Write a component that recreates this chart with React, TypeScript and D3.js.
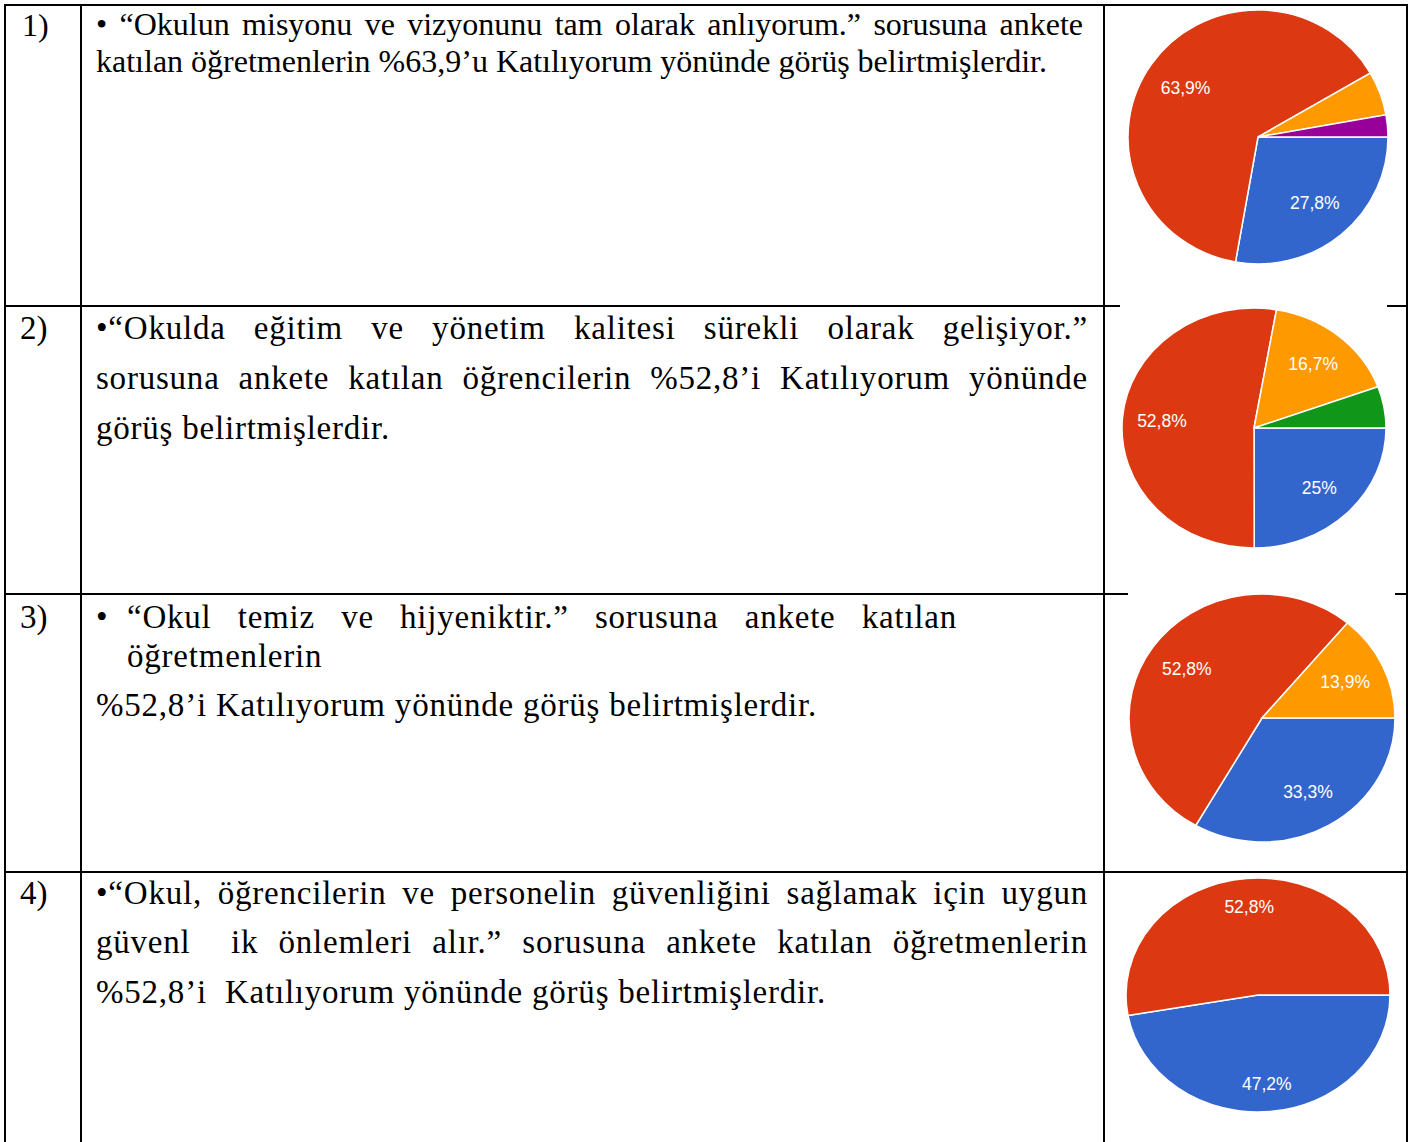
import React, { useEffect, useRef } from "react";
import * as d3 from "d3";

// ---- data ----
const categories = [
  "Kesinlikle katılıyorum",
  "Katılıyorum",
  "Kararsızım",
  "Katılmıyorum",
  "Kesinlikle katılmıyorum",
];
const categoryColors = ["#3366CC", "#DC3912", "#FF9900", "#109618", "#990099"];
const pie1Values = [27.8, 63.9, 5.6, 0, 2.8];
const pie2Values = [25, 52.8, 16.7, 5.6, 0];
const pie3Values = [33.3, 52.8, 13.9, 0, 0];
const pie4Values = [47.2, 52.8, 0, 0, 0];
const rowNumbers = ["1)", "2)", "3)", "4)"];
const row1Lines = [
  "• “Okulun misyonu ve vizyonunu tam olarak anlıyorum.” sorusuna ankete",
  "katılan öğretmenlerin %63,9’u Katılıyorum yönünde görüş belirtmişlerdir.",
];
const row2Lines = [
  "•“Okulda eğitim ve yönetim kalitesi sürekli olarak gelişiyor.”",
  "sorusuna ankete katılan öğrencilerin %52,8’i Katılıyorum yönünde",
  "görüş belirtmişlerdir.",
];
const row3Bullet = "•";
const row3Lines = [
  "“Okul temiz ve hijyeniktir.” sorusuna ankete katılan",
  "öğretmenlerin",
  "%52,8’i Katılıyorum yönünde görüş belirtmişlerdir.",
];
const row4Lines = [
  "•“Okul, öğrencilerin ve personelin güvenliğini sağlamak için uygun",
  "güvenl  ik önlemleri alır.” sorusuna ankete katılan öğretmenlerin",
  "%52,8’i  Katılıyorum yönünde görüş belirtmişlerdir.",
];

// ---- layout ----
const W = 1423;
const H = 1142;
const colX = [5, 81, 1104, 1407];
const rowY = [5, 306, 594, 872];
const pieLayout = [
  { cx: 1258, cy: 137, rx: 130, ry: 127, labelFrac: 0.68 },
  { cx: 1254, cy: 428, rx: 132, ry: 120, labelFrac: 0.7 },
  { cx: 1262, cy: 718, rx: 133, ry: 124, labelFrac: 0.69 },
  { cx: 1258, cy: 995, rx: 132, ry: 117, labelFrac: 0.76 },
];
const pieCovers = [
  null,
  { x0: 1120, x1: 1387, y: 306 },
  { x0: 1128, x1: 1395, y: 594 },
  null,
];

const SERIF = "'Liberation Serif', 'Times New Roman', serif";

export default function App() {
  const ref = useRef<SVGSVGElement | null>(null);

  useEffect(() => {
    const svg = d3.select(ref.current);
    svg.selectAll("*").remove();
    svg.append("rect").attr("width", W).attr("height", H).attr("fill", "#fff");

    // ---- table lines ----
    const lines = svg.append("g").attr("stroke", "#000").attr("stroke-width", 2);
    colX.forEach((x) => {
      lines.append("line").attr("x1", x).attr("x2", x).attr("y1", rowY[0] - 1).attr("y2", H);
    });
    rowY.forEach((y) => {
      lines.append("line").attr("x1", colX[0] - 1).attr("x2", colX[3] + 1).attr("y1", y).attr("y2", y);
    });
    pieCovers.forEach((c) => {
      if (!c) return;
      svg.append("rect").attr("x", c.x0).attr("y", c.y - 3).attr("width", c.x1 - c.x0).attr("height", 6).attr("fill", "#fff");
    });

    // ---- pies ----
    const allValues = [pie1Values, pie2Values, pie3Values, pie4Values];
    const pieGen = d3
      .pie<number>()
      .sort(null)
      .value((d) => d)
      .startAngle(Math.PI / 2)
      .endAngle(Math.PI / 2 + 2 * Math.PI);
    const color = d3.scaleOrdinal<string, string>().domain(categories).range(categoryColors);

    allValues.forEach((vals, i) => {
      const L = pieLayout[i];
      const arcs = pieGen(vals).filter((a) => a.value > 0);
      const arc = d3.arc<d3.PieArcDatum<number>>().innerRadius(0).outerRadius(L.rx);
      const g = svg.append("g").attr("transform", `translate(${L.cx},${L.cy})`);
      const gs = g.append("g").attr("transform", `scale(1,${L.ry / L.rx})`);
      gs.selectAll("path")
        .data(arcs)
        .join("path")
        .attr("d", arc as any)
        .attr("fill", (d) => color(categories[d.index]))
        .attr("stroke", "#fff")
        .attr("stroke-width", 1.5)
        .attr("vector-effect", "non-scaling-stroke");
      g.selectAll("text")
        .data(arcs.filter((a) => a.value >= 10))
        .join("text")
        .attr("x", (d) => Math.sin((d.startAngle + d.endAngle) / 2) * L.rx * L.labelFrac)
        .attr("y", (d) => -Math.cos((d.startAngle + d.endAngle) / 2) * L.ry * L.labelFrac)
        .attr("dy", "0.36em")
        .attr("text-anchor", "middle")
        .attr("fill", "#fff")
        .attr("font-family", "'Liberation Sans', Arial, sans-serif")
        .attr("font-size", 17.5)
        .text((d) => String(d.value).replace(".", ",") + "%");
    });

    // ---- text helpers ----
    const tg = svg.append("g").attr("fill", "#000");
    const probe = (s: string, size: number, ls: number) => {
      const t = tg
        .append("text")
        .attr("font-family", SERIF)
        .attr("font-size", size)
        .attr("letter-spacing", ls)
        .attr("xml:space", "preserve")
        .style("white-space", "pre")
        .text(s);
      const w = (t.node() as SVGTextElement).getComputedTextLength();
      t.remove();
      return w;
    };
    const natural = (s: string, x: number, y: number, size: number, ls: number) => {
      tg.append("text")
        .attr("x", x)
        .attr("y", y)
        .attr("font-family", SERIF)
        .attr("font-size", size)
        .attr("letter-spacing", ls)
        .attr("xml:space", "preserve")
        .style("white-space", "pre")
        .text(s);
    };
    const justified = (s: string, x0: number, x1: number, y: number, size: number, ls: number) => {
      const toks = s.split(" ");
      const ws = toks.map((t) => (t ? probe(t, size, ls) : 0));
      const total = d3.sum(ws);
      const gap = (x1 - x0 - total) / Math.max(1, toks.length - 1);
      let x = x0;
      toks.forEach((t, k) => {
        if (t) natural(t, x, y, size, ls);
        x += ws[k] + gap;
      });
    };

    // Row 1 (Times-like)
    const s1 = (30 * 951) / probe(row1Lines[1], 30, 0);
    natural(rowNumbers[0], 22, 36, s1, 0);
    justified(row1Lines[0], 96, 1083, 35, s1, 0);
    natural(row1Lines[1], 96, 72, s1, 0);

    // Rows 2-4 (Palatino-like substitute)
    const s2 = 33;
    const ls2 = (294 - probe(row2Lines[2], s2, 0)) / row2Lines[2].length;
    natural(rowNumbers[1], 20, 339, s2, 0);
    justified(row2Lines[0], 96, 1088, 339, s2, ls2);
    justified(row2Lines[1], 96, 1088, 389, s2, ls2);
    natural(row2Lines[2], 96, 439, s2, ls2);

    natural(rowNumbers[2], 20, 628, s2, 0);
    natural(row3Bullet, 96, 628, s2, 0);
    justified(row3Lines[0], 127, 957, 628, s2, ls2);
    natural(row3Lines[1], 127, 667, s2, ls2);
    natural(row3Lines[2], 96, 716, s2, ls2);

    natural(rowNumbers[3], 20, 904, s2, 0);
    justified(row4Lines[0], 96, 1088, 904, s2, ls2);
    justified(row4Lines[1], 96, 1088, 953, s2, ls2);
    natural(row4Lines[2], 96, 1003, s2, ls2);
  }, []);

  return (
    <svg
      ref={ref}
      width={W}
      height={H}
      style={{ position: "absolute", left: 0, top: 0, display: "block" }}
    />
  );
}
